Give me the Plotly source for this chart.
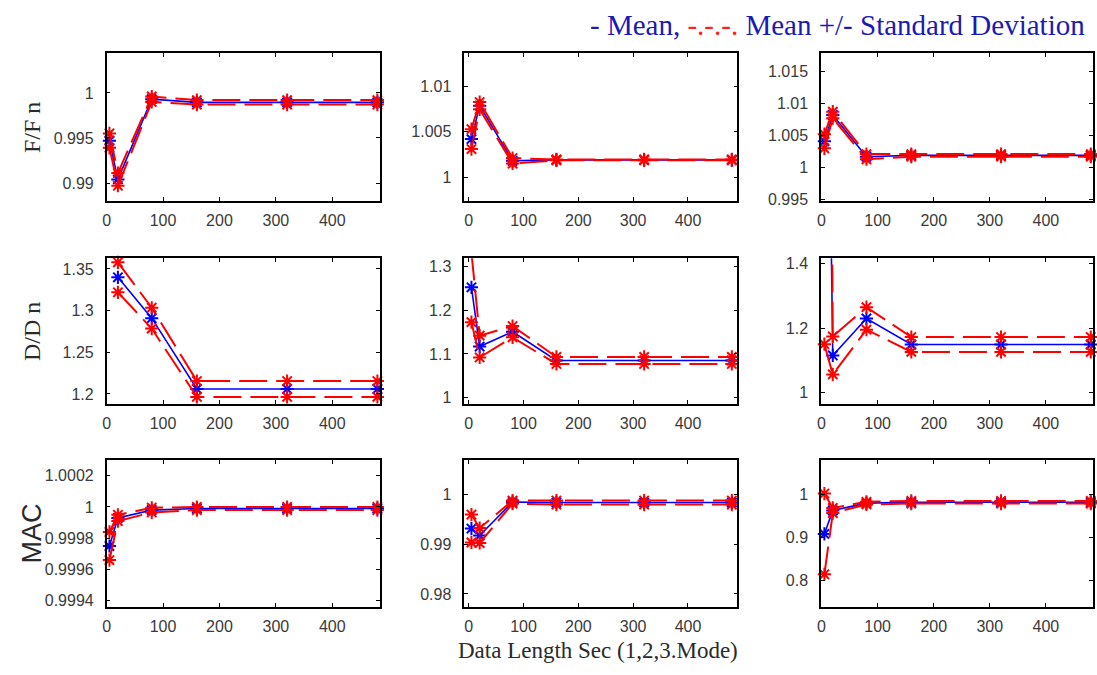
import plotly.graph_objects as go

# Data lengths in seconds
X = [5, 20, 80, 160, 320, 480]

# F/Fn : mean and standard deviation per mode
ff_mean_m1 = [0.9947, 0.9904, 0.9993, 0.99895, 0.99895, 0.99895]
ff_std_m1 = [0.0008, 0.0007, 0.0003, 0.00025, 0.00025, 0.00025]
ff_mean_m2 = [1.0042, 1.0079, 1.0018, 1.0019, 1.0019, 1.0019]
ff_std_m2 = [0.0011, 0.0004, 0.0003, 0.00005, 0.00005, 0.00005]
ff_mean_m3 = [1.0041, 1.0082, 1.0017, 1.0019, 1.0019, 1.0019]
ff_std_m3 = [0.0011, 0.0005, 0.0004, 0.0002, 0.0002, 0.0002]

# D/Dn : mean and standard deviation per mode
dd_mean_m1 = [None, 1.340, 1.291, 1.206, 1.206, 1.206]
dd_std_m1 = [None, 0.018, 0.0125, 0.0095, 0.0095, 0.0095]
dd_mean_m2 = [1.253, 1.117, 1.151, 1.085, 1.085, 1.085]
dd_std_m2 = [0.080, 0.025, 0.013, 0.008, 0.008, 0.008]
dd_mean_m3 = [3.000, 1.115, 1.230, 1.149, 1.149, 1.149]
dd_std_m3 = [1.850, 0.059, 0.035, 0.023, 0.023, 0.023]

# MAC : mean and standard deviation per mode
mac_mean_m1 = [0.99975, 0.99993, 0.99998, 0.99999, 0.99999, 0.99999]
mac_std_m1 = [0.00009, 0.00002, 0.000015, 0.00001, 0.00001, 0.00001]
mac_mean_m2 = [0.9931, 0.9917, 0.9984, 0.9983, 0.9983, 0.9983]
mac_std_m2 = [0.0028, 0.0015, 0.0003, 0.0004, 0.0004, 0.0004]
mac_mean_m3 = [0.908, 0.962, 0.979, 0.981, 0.981, 0.981]
mac_std_m3 = [0.093, 0.006, 0.003, 0.003, 0.003, 0.003]

# Axis ticks
x_ticks = [0, 100, 200, 300, 400]
x_tick_labels = ["0", "100", "200", "300", "400"]
y_ticks = [
    [0.99, 0.995, 1.0], [1.0, 1.005, 1.01], [0.995, 1.0, 1.005, 1.01, 1.015],
    [1.2, 1.25, 1.3, 1.35], [1.0, 1.1, 1.2, 1.3], [1.0, 1.2, 1.4],
    [0.9994, 0.9996, 0.9998, 1.0, 1.0002], [0.98, 0.99, 1.0], [0.8, 0.9, 1.0],
]
y_tick_labels = [
    ["0.99", "0.995", "1"], ["1", "1.005", "1.01"], ["0.995", "1", "1.005", "1.01", "1.015"],
    ["1.2", "1.25", "1.3", "1.35"], ["1", "1.1", "1.2", "1.3"], ["1", "1.2", "1.4"],
    ["0.9994", "0.9996", "0.9998", "1", "1.0002"], ["0.98", "0.99", "1"], ["0.8", "0.9", "1"],
]
y_ranges = [
    [0.9880, 1.0044], [0.99735, 1.0137], [0.9948, 1.0178],
    [1.188, 1.363], [0.985, 1.320], [0.964, 1.4175],
    [0.99936, 1.0003], [0.9774, 1.0068], [0.740, 1.078],
]
x_ranges = [[0, 484], [-8, 490], [-1, 484]]
row_titles = ["F/F n", "D/D n", "MAC"]

panels = [
    (ff_mean_m1, ff_std_m1), (ff_mean_m2, ff_std_m2), (ff_mean_m3, ff_std_m3),
    (dd_mean_m1, dd_std_m1), (dd_mean_m2, dd_std_m2), (dd_mean_m3, dd_std_m3),
    (mac_mean_m1, mac_std_m1), (mac_mean_m2, mac_std_m2), (mac_mean_m3, mac_std_m3),
]

W, H = 1097, 675
col_px = [(103, 377), (462, 736), (820, 1093)]
row_px = [(51, 201), (259, 407), (464, 613)]

BLUE = "#0000FF"
RED = "#FF0000"
TEXT_BLUE = "#1a1ab4"
TICK_GREY = "#3a3a3a"

fig = go.Figure()


def visible(vals, rng):
    return [1 if (v is not None and rng[0] <= v <= rng[1]) else 0 for v in vals]


for k, (mean, std) in enumerate(panels):
    r, c = divmod(k, 3)
    ax = "" if k == 0 else str(k + 1)
    upper = [None if m is None else m + s for m, s in zip(mean, std)]
    lower = [None if m is None else m - s for m, s in zip(mean, std)]
    yr = y_ranges[k]

    fig.add_trace(go.Scatter(
        x=X, y=mean, mode="lines+markers", xaxis="x" + ax, yaxis="y" + ax,
        line=dict(color=BLUE, width=1.6), cliponaxis=False, showlegend=False,
        marker=dict(symbol="asterisk-open", size=11, opacity=visible(mean, yr),
                    line=dict(color=BLUE, width=2)),
    ))
    for band in (upper, lower):
        fig.add_trace(go.Scatter(
            x=X, y=band, mode="lines+markers", xaxis="x" + ax, yaxis="y" + ax,
            line=dict(color=RED, width=2, dash="28px,9px"), cliponaxis=False,
            showlegend=False,
            marker=dict(symbol="asterisk-open", size=11, opacity=visible(band, yr),
                        line=dict(color=RED, width=2)),
        ))

    x0, x1 = col_px[c]
    y0, y1 = row_px[r]
    common = dict(
        showline=True, linecolor="black", linewidth=1.5, mirror="ticks",
        ticks="inside", ticklen=4, tickwidth=1, tickcolor="black",
        showgrid=False, zeroline=False,
        tickfont=dict(family="Liberation Sans, Arial", size=16, color=TICK_GREY),
    )
    fig.layout["xaxis" + ax] = dict(
        common, domain=[x0 / W, x1 / W], range=x_ranges[c], anchor="y" + ax,
        tickvals=x_ticks, ticktext=x_tick_labels, ticklabelstandoff=4,
    )
    fig.layout["yaxis" + ax] = dict(
        common, domain=[1 - y1 / H, 1 - y0 / H], range=yr, anchor="x" + ax,
        tickvals=y_ticks[k], ticktext=y_tick_labels[k], ticklabelstandoff=8,
    )

annotations = []
title_fonts = [
    dict(family="Liberation Serif, Times New Roman", size=24, color="#2a2a2a"),
    dict(family="Liberation Serif, Times New Roman", size=24, color="#2a2a2a"),
    dict(family="Liberation Sans, Arial", size=27, color="#2a2a2a"),
]
for r, (t, f) in enumerate(zip(row_titles, title_fonts)):
    yc = (row_px[r][0] + row_px[r][1]) / 2
    annotations.append(dict(
        text=t, textangle=-90, x=28 / W, y=1 - yc / H, xref="paper", yref="paper",
        xanchor="center", yanchor="middle", showarrow=False, font=f,
    ))

annotations.append(dict(
    text="Data Length Sec (1,2,3.Mode)", x=596 / W, y=1 - 657 / H,
    xref="paper", yref="paper", xanchor="center", yanchor="middle",
    showarrow=False,
    font=dict(family="Liberation Serif, Times New Roman", size=23, color="#2a2a2a"),
))
annotations.append(dict(
    text=("- Mean, <span style='color:#FF2020'>-.-.-.</span> "
          "Mean +/- Standard Deviation"),
    x=1087 / W, y=1 - 22 / H, xref="paper", yref="paper",
    xanchor="right", yanchor="middle", showarrow=False,
    font=dict(family="Liberation Serif, Times New Roman", size=29, color=TEXT_BLUE),
))

fig.update_layout(
    width=W, height=H, autosize=False,
    margin=dict(l=0, r=0, t=0, b=0),
    paper_bgcolor="white", plot_bgcolor="white",
    annotations=annotations,
)

fig.write_html("out.html")
